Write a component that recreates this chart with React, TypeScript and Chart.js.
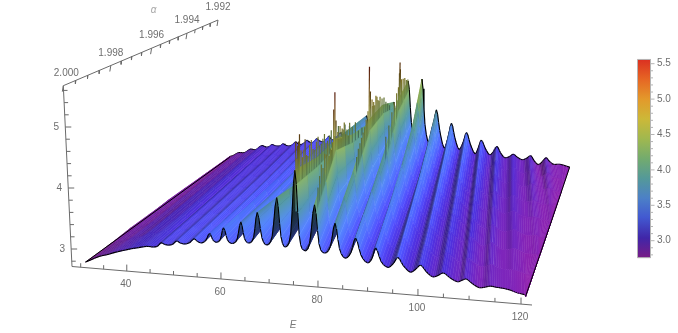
import React, { useEffect, useRef } from "react";
import { Chart, registerables } from "chart.js";

Chart.register(...registerables);

// ---- data ----
const rowAlpha = [2.0, 1.998, 1.996, 1.994, 1.992];
// ridges drift to lower E as alpha falls: E at each alpha row = columnE * rowDrift
const rowDrift = [1, 0.9725, 0.945, 0.9175, 0.89];
const columnE = [
  31, 34, 35.7, 37.5, 39.2, 41, 42.6, 44.3, 45.8,
  46.7, 47.4, 48.1, 49, 49.9, 50.7, 51.5, 52.5, 53.5, 54.4, 55.1, 56, 56.9, 57.7, 58.3, 59,
  59.9, 60.6, 61.4, 62.4, 63.4, 64.2, 64.9, 65.8, 66.8, 67.6, 68.5, 69.5, 70.6, 71.6, 72.4, 73.3,
  74.4, 75.3, 76.1, 77, 78.2, 79.2, 80.1, 81.2, 82.4, 83.3, 84.2, 85.3, 86.5, 87.4, 88.5, 89.8,
  90.7, 91.4, 92.5, 93.9, 95, 95.8, 96.9, 98.3, 99.4, 100.3, 101.4, 102.7, 103.9, 104.8, 106, 107.5,
  108.4, 109.2, 110.4, 111.8, 113, 113.9, 115, 116.3, 117.7, 118.8, 120, 121.5, 122.9, 124, 125, 126.3,
  127.5, 128.5, 129.5, 130.7, 132, 133, 135.6,
];
const zByColumn = [
  [2.75,2.75,2.75,2.75,2.75],[2.86,2.83,2.81,2.78,2.76],[2.9,2.84,2.82,2.8,2.78],[2.95,2.92,2.9,2.88,2.85],
  [2.99,2.92,2.9,2.87,2.85],[3.03,3.02,2.99,2.96,2.93],[3.06,2.99,2.97,2.95,2.92],[3.09,3.08,3.06,3.04,3.01],
  [3.09,3.04,3.02,3.0,2.98],
  [3.11,3.07,3.04,3.02,3.0],[3.17,3.13,3.1,3.07,3.04],[3.15,3.11,3.08,3.05,3.02],[3.14,3.1,3.07,3.04,3.01],
  [3.16,3.12,3.09,3.05,3.02],[3.22,3.17,3.13,3.09,3.06],[3.19,3.15,3.11,3.07,3.03],[3.18,3.14,3.1,3.06,3.02],
  [3.21,3.17,3.12,3.08,3.05],[3.28,3.23,3.18,3.14,3.11],[3.24,3.19,3.15,3.11,3.07],[3.22,3.18,3.14,3.1,3.06],
  [3.27,3.22,3.17,3.13,3.09],[3.39,3.3,3.24,3.19,3.15],[3.29,3.24,3.19,3.15,3.12],[3.25,3.21,3.17,3.14,3.1],
  [3.3,3.26,3.21,3.17,3.13],[3.5,3.39,3.3,3.24,3.19],[3.3,3.27,3.23,3.19,3.15],[3.25,3.22,3.2,3.17,3.13],
  [3.33,3.31,3.26,3.21,3.17],[3.62,3.49,3.4,3.31,3.25],[3.35,3.33,3.29,3.24,3.19],[3.28,3.26,3.24,3.21,3.17],
  [3.38,3.36,3.32,3.27,3.22],[3.8,3.59,3.51,3.41,3.33],[3.38,3.37,3.34,3.3,3.25],[3.27,3.27,3.27,3.26,3.22],
  [3.42,3.43,3.4,3.35,3.29],[4.07,3.82,3.7,3.55,3.44],[3.42,3.43,3.4,3.35,3.32],[3.26,3.27,3.27,3.27,3.27],
  [3.5,3.56,3.51,3.46,3.4],[4.55,4.25,4.1,3.9,3.7],[3.47,3.55,3.51,3.46,3.4],[3.23,3.25,3.26,3.27,3.27],
  [3.35,3.65,3.54,3.47,3.43],[4.0,4.6,4.2,3.95,3.8],[3.35,3.64,3.53,3.46,3.42],[3.21,3.23,3.24,3.25,3.26],
  [3.33,3.47,3.62,3.58,3.48],[3.72,4.05,4.5,4.35,4.0],[3.3,3.44,3.6,3.57,3.47],[3.15,3.18,3.22,3.23,3.25],
  [3.25,3.34,3.45,3.6,3.61],[3.5,3.72,3.98,4.45,4.45],[3.22,3.3,3.39,3.56,3.59],[3.1,3.12,3.14,3.18,3.22],
  [3.18,3.24,3.3,3.41,3.61],[3.36,3.5,3.68,3.95,4.5],[3.14,3.2,3.27,3.37,3.56],[3.05,3.07,3.09,3.12,3.15],
  [3.13,3.18,3.25,3.35,3.48],[3.23,3.34,3.47,3.65,3.87],[3.1,3.16,3.23,3.33,3.44],[3.0,3.01,3.04,3.07,3.08],
  [3.06,3.09,3.16,3.23,3.31],[3.13,3.2,3.3,3.43,3.6],[3.03,3.07,3.14,3.2,3.3],[2.95,2.97,3.0,3.02,3.06],
  [2.99,3.03,3.08,3.15,3.22],[3.03,3.1,3.18,3.3,3.42],[2.96,3.0,3.05,3.12,3.18],[2.9,2.92,2.95,2.98,2.98],
  [2.93,2.97,3.02,3.07,3.11],[2.96,3.03,3.1,3.19,3.27],[2.89,2.95,3.0,3.05,3.11],[2.83,2.88,2.91,2.93,2.97],
  [2.85,2.91,2.95,3.0,3.05],[2.87,2.95,3.0,3.08,3.15],[2.86,2.88,2.93,2.98,3.02],[2.85,2.83,2.88,2.9,2.92],
  [2.83,2.85,2.91,2.94,2.95],[2.8,2.87,2.94,2.99,3.0],[2.78,2.83,2.89,2.91,2.94],[2.76,2.79,2.84,2.85,2.89],
  [2.75,2.79,2.84,2.89,2.93],[2.75,2.8,2.85,2.93,2.98],[2.75,2.78,2.82,2.87,2.88],[2.75,2.76,2.79,2.82,2.8],
  [2.75,2.76,2.8,2.83,2.87],[2.75,2.76,2.8,2.85,2.95],[2.75,2.76,2.78,2.81,2.88],[2.75,2.75,2.76,2.78,2.82],
  [2.75,2.75,2.76,2.78,2.82],[2.75,2.75,2.76,2.78,2.82],[2.75,2.75,2.75,2.76,2.77],
];

// thin noisy spikes on the ridge crests
const spikeRidge = [
  75.3,75.3,75.3,75.3,75.3,75.3,75.3,75.3,75.3,75.3,75.3,75.3,75.3,75.3,75.3,75.3,75.3,75.3,
  75.3,75.3,75.3,75.3,75.3,75.3,75.3,75.3,75.3,75.3,75.3,75.3,
  79.2,79.2,79.2,79.2,79.2,79.2,79.2,79.2,79.2,79.2,79.2,79.2,79.2,79.2,79.2,79.2,79.2,79.2,79.2,
  79.2,79.2,79.2,79.2,79.2,79.2,79.2,79.2,79.2,79.2,
  83.3,83.3,83.3,83.3,83.3,83.3,83.3,83.3,83.3,83.3,83.3,83.3,83.3,83.3,83.3,83.3,83.3,
  83.3,83.3,83.3,83.3,83.3,83.3,83.3,83.3,
  87.4,87.4,87.4,87.4,87.4,87.4,87.4,87.4,87.4,87.4,87.4,87.4,87.4,87.4,
];
const spikeAlpha = [
  1.99992,1.99976,1.9996,1.99936,1.99912,1.99888,1.99856,1.99824,1.99792,1.9976,1.99728,1.99696,1.99656,1.99616,1.99576,1.99536,1.99496,1.9944,
  1.99984,1.99968,1.99948,1.99924,1.999,1.99872,1.9984,1.99808,1.99776,1.99744,1.99712,1.99676,
  1.99968,1.99936,1.99904,1.99872,1.99848,1.99824,1.99812,1.998,1.99788,1.99768,1.99744,1.9972,1.99696,1.99664,1.99632,1.996,1.9956,1.9952,1.99472,
  1.99952,1.9992,1.99888,1.9986,1.99836,1.99756,1.99732,1.99708,1.9968,1.99648,
  1.9976,1.9972,1.9968,1.9964,1.99616,1.996,1.99584,1.9956,1.99536,1.99504,1.99472,1.9944,1.99408,1.99376,1.99344,1.99312,1.9928,
  1.9974,1.997,1.9966,1.99628,1.99548,1.9952,1.99488,1.99456,
  1.996,1.99552,1.99504,1.99464,1.99424,1.99392,1.99376,1.99368,1.9936,1.99336,1.99304,1.99272,1.9924,1.99208,
];
const spikeTop = [
  5.0,4.9,5.05,4.6,4.85,4.5,4.7,4.45,4.6,4.4,4.5,4.3,4.4,4.2,4.3,4.1,4.15,4.0,
  4.7,4.95,4.75,4.7,4.55,4.65,4.5,4.55,4.4,4.45,4.3,4.35,
  4.2,4.5,4.6,4.7,4.55,4.6,5.15,5.43,4.9,4.65,4.7,4.6,4.65,4.45,4.5,4.35,4.35,4.1,4.05,
  4.35,4.4,4.55,4.45,4.5,4.5,4.45,4.55,4.4,4.3,
  4.2,4.35,4.45,4.6,4.7,5.5,5.0,4.8,4.7,4.75,4.6,4.6,4.5,4.45,4.3,4.2,4.1,
  4.3,4.4,4.5,4.55,4.65,4.6,4.7,4.55,
  4.2,4.3,4.45,4.55,4.65,4.7,4.95,5.15,5.0,4.75,4.7,4.65,4.55,4.5,
];

const eMajor = [40, 60, 80, 100, 120];
const eMinor = [30, 35, 45, 50, 55, 65, 70, 75, 85, 90, 95, 105, 110, 115];
const alphaMajor = [2.0, 1.998, 1.996, 1.994, 1.992];
const alphaMinor = [1.9995, 1.999, 1.9985, 1.9975, 1.997, 1.9965, 1.9955, 1.995, 1.9945, 1.9935, 1.993, 1.9925];
const zMajor = [3, 4, 5];
const zMinor = [2.8, 3.2, 3.4, 3.6, 3.8, 4.2, 4.4, 4.6, 4.8, 5.2, 5.4, 5.6];
const barMajor = [3, 3.5, 4, 4.5, 5, 5.5];
const barMinor = [2.8, 2.9, 3.1, 3.2, 3.3, 3.4, 3.6, 3.7, 3.8, 3.9, 4.1, 4.2, 4.3, 4.4, 4.6, 4.7, 4.8, 4.9, 5.1, 5.2, 5.3, 5.4];

const colorZ = [2.76, 3.04, 3.33, 3.6, 3.88, 4.16, 4.44, 4.72, 5.0, 5.28, 5.56];
const colorR = [120, 64, 66, 76, 84, 115, 160, 204, 227, 230, 219];
const colorG = [28, 38, 89, 128, 153, 171, 184, 184, 153, 102, 48];
const colorB = [134, 168, 209, 199, 153, 110, 79, 56, 43, 36, 33];

// ---- view ----
const W = 678;
const H = 333;
const lerp = (a: number, b: number, t: number) => a + (b - a) * t;
const clamp = (v: number, a: number, b: number) => Math.max(a, Math.min(b, v));

function project(E: number, alpha: number, z: number) {
  const u = (E - 30) / 90;
  const s = (u * 0.935) / (1 - 0.065 * u);
  const v = (2 - alpha) / 0.008;
  const t = (v * 1.33) / (1 + 0.33 * v);
  const x0 = lerp(81 + 441 * s, 226 + 341 * u, t);
  const y0 = lerp(261.7 + 34.1 * s, 157 + 11 * s, t);
  const h = (60 - 12 * t) * (z - 2.75);
  return { x: x0 + ((x0 - 330) / 5370) * h, y: y0 - h };
}

function colormap(z: number) {
  const c = clamp(z, colorZ[0], colorZ[colorZ.length - 1]);
  let i = 0;
  while (i < colorZ.length - 2 && c > colorZ[i + 1]) i++;
  const t = (c - colorZ[i]) / (colorZ[i + 1] - colorZ[i]);
  return [lerp(colorR[i], colorR[i + 1], t), lerp(colorG[i], colorG[i + 1], t), lerp(colorB[i], colorB[i + 1], t)];
}
function css(rgb: number[], f = 1) {
  return `rgb(${rgb.map((c) => Math.round(clamp(c * f, 0, 255))).join(",")})`;
}
function lit(z: number, sl: number) {
  const rgb = colormap(z);
  const peak = lerp(1.2, 0.95, clamp((z - 3.3) / 0.5, 0, 1));
  const shade = sl > 0 ? peak - (0.75 * sl) / (sl + 0.07) : peak + 0.35 * Math.min(0.2, -sl);
  return `rgb(${Math.round(clamp(rgb[0] * shade, 0, 255))},${Math.round(clamp(rgb[1] * shade, 0, 255))},${Math.round(clamp(rgb[2] * shade * (shade > 1 ? 1.08 : 1), 0, 255))})`;
}

function line(pts: { x: number; y: number }[], color: any, width: number, fill?: any) {
  return {
    data: pts,
    showLine: true,
    borderColor: color,
    borderWidth: width,
    backgroundColor: fill ?? "transparent",
    fill: fill ? "shape" : false,
    pointRadius: 0,
    pointHoverRadius: 0,
    tension: 0,
    borderJoinStyle: "round" as const,
    borderCapStyle: "butt" as const,
    clip: false as const,
  };
}

// smooth mesh for drawing: a cubic through the table's columns, as a line's tension would do
function smoothMesh() {
  const STEPS = 3;
  const es: number[] = [];
  const zs: number[][] = [];
  const tangent = (i: number, r: number) => {
    const a = Math.max(0, i - 1);
    const b = Math.min(columnE.length - 1, i + 1);
    return (zByColumn[b][r] - zByColumn[a][r]) / (columnE[b] - columnE[a]);
  };
  for (let i = 0; i < columnE.length - 1; i++) {
    const h = columnE[i + 1] - columnE[i];
    for (let q = 0; q < STEPS; q++) {
      const t = q / STEPS;
      es.push(columnE[i] + h * t);
      zs.push(
        rowAlpha.map((_, r) => {
          const t2 = t * t;
          const t3 = t2 * t;
          return (
            (2 * t3 - 3 * t2 + 1) * zByColumn[i][r] +
            (t3 - 2 * t2 + t) * h * tangent(i, r) +
            (-2 * t3 + 3 * t2) * zByColumn[i + 1][r] +
            (t3 - t2) * h * tangent(i + 1, r)
          );
        })
      );
    }
  }
  es.push(columnE[columnE.length - 1]);
  zs.push(zByColumn[zByColumn.length - 1]);
  return { es, zs };
}

function buildSurface(ctx: CanvasRenderingContext2D) {
  const out: any[] = [];
  const { es, zs } = smoothMesh();
  const n = es.length;
  const rows = rowAlpha.length;
  const P = es.map((e, k) => rowAlpha.map((a, r) => project(clamp(e * rowDrift[r], 31, 120.7), a, zs[k][r])));
  const slope = (k: number, r: number) => {
    const a = Math.max(0, k - 3);
    const b = Math.min(n - 1, k + 3);
    return (zs[b][r] - zs[a][r]) / (es[b] - es[a]);
  };
  const tint = (k: number, r: number, w: number) =>
    lit(lerp(zs[k][r + 1], zs[k][r], w), lerp(slope(k, r + 1), slope(k, r), w));
  const at = (k: number, r: number, w: number) => ({
    x: lerp(P[k][r + 1].x, P[k][r].x, w),
    y: lerp(P[k][r + 1].y, P[k][r].y, w),
  });
  const SUB = 2;
  for (let k = 0; k < n - 1; k++) {
    for (let r = rows - 2; r >= 0; r--) {
      for (let j = 0; j < SUB; j++) {
        const w0 = j / SUB;
        const w1 = (j + 1) / SUB;
        const a = at(k, r, w0);
        const b = at(k + 1, r, w0);
        const c = at(k + 1, r, w1);
        const d = at(k, r, w1);
        const area = Math.abs(
          (a.x * b.y - b.x * a.y + b.x * c.y - c.x * b.y + c.x * d.y - d.x * c.y + d.x * a.y - a.x * d.y) / 2
        );
        if (area < 0.02) continue;
        let ex = d.x - a.x;
        let ey = d.y - a.y;
        if (Math.hypot(ex, ey) < 0.01) {
          ex = c.x - b.x;
          ey = c.y - b.y;
        }
        const len = Math.hypot(ex, ey) || 1;
        const nx = -ey / len;
        const ny = ex / len;
        const mlx = (a.x + d.x) / 2;
        const mly = (a.y + d.y) / 2;
        const dot = ((b.x + c.x) / 2 - mlx) * nx + ((b.y + c.y) / 2 - mly) * ny;
        const wm = (w0 + w1) / 2;
        const cl = tint(k, r, wm);
        const cr = tint(k + 1, r, wm);
        let paint: any = cl;
        if (Math.abs(dot) > 0.05) {
          paint = ctx.createLinearGradient(mlx, mly, mlx + nx * dot, mly + ny * dot);
          paint.addColorStop(0, cl);
          paint.addColorStop(1, cr);
        }
        out.push(line([a, b, c, d, a], paint, 0.5, paint));
      }
      if (r === rows - 2) out.push(line([P[k][rows - 1], P[k + 1][rows - 1]], "#000", 1.1));
    }
    // spikes standing on this column's crest
    for (let i = 0; i < spikeRidge.length; i++) {
      if (Math.abs(spikeRidge[i] - es[k]) > 1e-6) continue;
      const v = (2 - spikeAlpha[i]) / 0.008;
      const r = Math.min(rows - 2, Math.floor(v * (rows - 1)));
      const f = v * (rows - 1) - r;
      const drift = lerp(rowDrift[r], rowDrift[r + 1], f);
      const crest = lerp(zs[k][r], zs[k][r + 1], f);
      const bottom = Math.min(crest, spikeTop[i]) - 0.7;
      const p0 = project(es[k] * drift, spikeAlpha[i], bottom);
      const p1 = project(es[k] * drift, spikeAlpha[i], spikeTop[i]);
      const g = ctx.createLinearGradient(p0.x, p0.y, p1.x, p1.y);
      g.addColorStop(0, css(colormap(bottom), 0.95));
      g.addColorStop(0.5, css(colormap((bottom + spikeTop[i]) / 2), 0.78));
      g.addColorStop(1, css(colormap(spikeTop[i]), spikeTop[i] > 4.8 ? 0.4 : 0.62));
      out.push(line([p0, p1], g, 1.2));
    }
    out.push(line([P[k][0], P[k + 1][0]], "#000", 1.1));
  }
  out.push(line(P[0].slice(), "#000", 1));
  out.push(line(P[n - 1].slice(), "#000", 1));
  return out;
}

// axis positions
const eAxisPoint = (E: number) => {
  const u = (E - 30) / 90;
  const x = 80.7 + (440.3 * (u * 0.935)) / (1 - 0.065 * u);
  return { x, y: 266.5 + ((x - 72) * 38.5) / 460 };
};
const alphaAxisPoint = (a: number) => {
  const v = (2 - a) / 0.008;
  const t = (v * 1.33) / (1 + 0.33 * v);
  return { x: 63.3 + 154.7 * t, y: 85.7 - 65.7 * t };
};
const zAxisPoint = (z: number) => {
  const y = 249 - 61 * (z - 3);
  return { x: 72 - ((266.5 - y) * 8.7) / 180.8, y };
};
const barY = (z: number) => 240.7 - 70.8 * (z - 3);
const AXIS = "#6a6a6a";
const BAR = "#b4b4b4";

function buildFrame(ctx: CanvasRenderingContext2D) {
  const out: any[] = [];
  const seg = (x0: number, y0: number, x1: number, y1: number, c = AXIS) =>
    out.push(line([{ x: x0, y: y0 }, { x: x1, y: y1 }], c, 1));
  seg(72, 266.5, 532, 305);
  seg(63.3, 85.7, 218, 20);
  seg(63.3, 85.7, 72, 266.5);
  eMajor.forEach((e) => { const p = eAxisPoint(e); seg(p.x, p.y, p.x, p.y - 6.5); });
  eMinor.forEach((e) => { const p = eAxisPoint(e); seg(p.x, p.y, p.x, p.y - 4); });
  alphaMajor.forEach((a) => { const p = alphaAxisPoint(a); seg(p.x, p.y, p.x - 1, p.y + 6); });
  alphaMinor.forEach((a) => { const p = alphaAxisPoint(a); seg(p.x, p.y, p.x - 0.5, p.y + 3.5); });
  zMajor.forEach((z) => { const p = zAxisPoint(z); seg(p.x, p.y, p.x + 6, p.y); });
  zMinor.forEach((z) => { const p = zAxisPoint(z); seg(p.x, p.y, p.x + 4, p.y); });

  const top = barY(5.56);
  const bottom = barY(2.76);
  const g = ctx.createLinearGradient(0, bottom, 0, top);
  colorZ.forEach((z, i) => g.addColorStop((z - 2.76) / 2.8, css([colorR[i], colorG[i], colorB[i]])));
  const L = 637.5;
  const R = 650.5;
  out.push(line([{ x: L, y: top }, { x: R, y: top }, { x: R, y: bottom }, { x: L, y: bottom }, { x: L, y: top }], BAR, 1, g));
  barMajor.forEach((z) => seg(R, barY(z), R + 4, barY(z), BAR));
  barMinor.forEach((z) => seg(R, barY(z), R + 2.5, barY(z), BAR));
  return out;
}

const textPlugin = {
  id: "axisText",
  afterDatasetsDraw(chart: any) {
    const { ctx, scales } = chart;
    const X = (v: number) => scales.x.getPixelForValue(v);
    const Y = (v: number) => scales.y.getPixelForValue(v);
    ctx.save();
    ctx.textAlign = "center";
    ctx.textBaseline = "middle";
    ctx.fillStyle = "#6e6e6e";
    ctx.font = '10px "Liberation Sans", sans-serif';
    eMajor.forEach((e) => {
      const p = eAxisPoint(e);
      ctx.fillText(String(e), X(p.x - 1), Y(p.y + 13));
    });
    alphaMajor.forEach((a, i) => {
      const p = alphaAxisPoint(a);
      ctx.fillText(a.toFixed(3), X(p.x + (i === 0 ? 3 : 0)), Y(p.y - 12.5));
    });
    zMajor.forEach((z) => {
      const p = zAxisPoint(z);
      ctx.fillText(String(z), X(p.x - 9), Y(p.y));
    });
    ctx.textAlign = "left";
    barMajor.forEach((z) => ctx.fillText(z.toFixed(1), X(657), Y(barY(z))));
    ctx.textAlign = "center";
    ctx.font = 'italic 10px "Liberation Sans", sans-serif';
    ctx.fillStyle = "#a8a8a8";
    ctx.fillText("\u03b1", X(153.7), Y(10));
    ctx.fillStyle = "#7a7a7a";
    ctx.fillText("E", X(293), Y(325));
    ctx.restore();
  },
};

export default function App() {
  const ref = useRef<HTMLCanvasElement>(null);
  useEffect(() => {
    const canvas = ref.current!;
    const ctx = canvas.getContext("2d")!;
    const painted = [...buildFrame(ctx), ...buildSurface(ctx)];
    const chart = new Chart(canvas, {
      type: "scatter",
      data: { datasets: painted.reverse() },
      options: {
        responsive: false,
        animation: false,
        events: [],
        devicePixelRatio: 1,
        layout: { padding: 0 },
        plugins: { legend: { display: false }, tooltip: { enabled: false } },
        scales: {
          x: { type: "linear", display: false, min: 0, max: W },
          y: { type: "linear", display: false, min: 0, max: H, reverse: true },
        },
      },
      plugins: [textPlugin],
    } as any);
    return () => chart.destroy();
  }, []);
  return (
    <div style={{ position: "fixed", left: 0, top: 0, width: W, height: H, background: "#fff" }}>
      <canvas ref={ref} width={W} height={H} style={{ display: "block", width: W, height: H }} />
    </div>
  );
}
